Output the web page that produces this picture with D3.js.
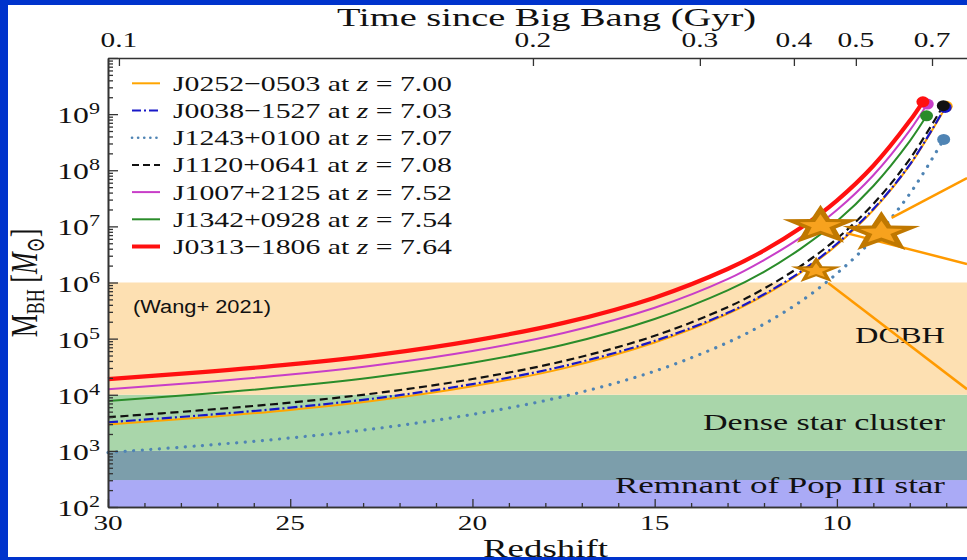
<!DOCTYPE html>
<html>
<head>
<meta charset="utf-8">
<script src="https://cdn.jsdelivr.net/npm/d3@7/dist/d3.min.js"></script>
<style>
  body { margin: 0; background: #fff; }
  svg { display: block; }
</style>
</head>
<body>
<div id="chart-area"></div>
<script>
/*
*    BH growth tracks vs redshift
*/

// ---- data ----
var redshiftGrid = [30, 27.5, 25, 22.5, 20, 17.5, 15, 13, 12, 11, 10, 9, 8];

var quasarNames = ["J0252\u22120503", "J0038\u22121527", "J1243+0100", "J1120+0641",
                   "J1007+2125", "J1342+0928", "J0313\u22121806"];
var quasarZLabels = ["7.00", "7.03", "7.07", "7.08", "7.52", "7.54", "7.64"];
var quasarEndZ = [7.00, 7.03, 7.07, 7.08, 7.52, 7.54, 7.64];

// log10(M_BH / M_sun) on redshiftGrid, last value at the quasar redshift
var logMassJ0252 = [3.47, 3.59, 3.73, 3.91, 4.15, 4.47, 4.93, 5.44, 5.77, 6.17, 6.67, 7.29, 8.09, 9.14];
var logMassJ0038 = [3.51, 3.63, 3.77, 3.95, 4.19, 4.51, 4.96, 5.46, 5.79, 6.19, 6.69, 7.31, 8.10, 9.12];
var logMassJ1243 = [2.97, 3.09, 3.23, 3.41, 3.65, 3.97, 4.42, 4.93, 5.26, 5.66, 6.16, 6.78, 7.58, 8.55];
var logMassJ1120 = [3.60, 3.72, 3.86, 4.04, 4.28, 4.60, 5.05, 5.56, 5.89, 6.29, 6.78, 7.40, 8.20, 9.15];
var logMassJ1007 = [4.10, 4.22, 4.36, 4.54, 4.78, 5.10, 5.55, 6.06, 6.40, 6.80, 7.29, 7.91, 8.71, 9.18];
var logMassJ1342 = [3.89, 4.01, 4.15, 4.33, 4.57, 4.89, 5.35, 5.86, 6.19, 6.60, 7.09, 7.72, 8.52, 8.97];
var logMassJ0313 = [4.28, 4.40, 4.54, 4.72, 4.96, 5.28, 5.73, 6.24, 6.57, 6.97, 7.46, 8.08, 8.88, 9.22];

// seed regions (log10 mass)
var bandLabels = ["Remnant of Pop III star", "", "Dense star cluster", "DCBH"];
var bandLow  = [2, 2.48, 3, 4];
var bandHigh = [2.48, 3, 4, 6];

var yTickExp = [2, 3, 4, 5, 6, 7, 8, 9];
var bottomTicks = [30, 25, 20, 15, 10];
var topTickLabels = ["0.1", "0.2", "0.3", "0.4", "0.5", "0.7"];
var topTickRedshift = [29.70, 18.34, 13.76, 11.18, 9.48, 7.39];

// star markers and pointer lines
var starZ = [10.45, 8.78, 10.57];
var starLogMass = [7.01, 6.89, 6.21];
var pointerStartZ = [8.50, 9.74, 10.24];
var pointerStartLogM = [7.15, 6.88, 5.99];
var pointerEndZ = [6.43, 6.43, 6.43];
var pointerEndLogM = [7.86, 6.33, 4.10];

// ---- styles ----
var seriesColor = ["#ffa500", "#1818c8", "#4f84b4", "#111111", "#c83ec8", "#2a8c2a", "#ff1010"];
var seriesWidth = [2, 2.2, 3.2, 2.2, 2, 2, 4.2];
var seriesDash  = [null, "10 3 2 3", "0.1 8.5", "8 4.5", null, null, null];
var bandColor = ["#aaaaf6", "#7c9eab", "#a9d6aa", "#fde0b2"];
var starRadius = [21, 21.5, 14];

var W = 967, H = 560;
var plotLeft = 108, plotRight = 967, plotTop = 58, plotBottom = 507;
var serif = "'Liberation Serif', 'DejaVu Serif', serif";

var svg = d3.select("#chart-area")
    .append("svg")
        .attr("width", W)
        .attr("height", H);

svg.append("rect").attr("width", W).attr("height", H).attr("fill", "#fff");

var x = d3.scaleLinear()
    .domain([30, 6.43])
    .range([plotLeft, plotRight]);

var y = d3.scaleLog()
    .domain([1e2, 1e10])
    .range([plotBottom, plotTop]);

// bands
svg.selectAll("rect.band")
    .data(bandLow)
    .enter()
    .append("rect")
        .attr("class", "band")
        .attr("x", plotLeft)
        .attr("width", plotRight - plotLeft)
        .attr("y", (d, i) => y(Math.pow(10, bandHigh[i])))
        .attr("height", (d, i) => y(Math.pow(10, d)) - y(Math.pow(10, bandHigh[i])))
        .attr("fill", (d, i) => bandColor[i]);

// band labels
var bandLabelX = [615, 0, 703, 855];
var bandLabelY = [493, 0, 430, 343];
var bandLabelW = [330, 0, 242, 90];
bandLabels.forEach((lab, i) => {
    if (!lab) return;
    svg.append("text")
        .attr("x", bandLabelX[i])
        .attr("y", bandLabelY[i])
        .attr("font-family", serif)
        .attr("font-size", "24px")
        .attr("fill", "#111")
        .attr("textLength", bandLabelW[i])
        .attr("lengthAdjust", "spacingAndGlyphs")
        .text(lab);
});

svg.append("text")
    .attr("x", 133)
    .attr("y", 313)
    .attr("font-family", "'Liberation Sans', Arial, sans-serif")
    .attr("font-size", "18px")
    .attr("fill", "#111")
    .attr("textLength", 138)
    .attr("lengthAdjust", "spacingAndGlyphs")
    .text("(Wang+ 2021)");

// tracks
var allMass = [logMassJ0252, logMassJ0038, logMassJ1243, logMassJ1120, logMassJ1007, logMassJ1342, logMassJ0313];

var line = d3.line()
    .x((d) => x(d.z))
    .y((d) => y(Math.pow(10, d.m)))
    .curve(d3.curveCatmullRom.alpha(0.5));

allMass.forEach((masses, i) => {
    var zs = redshiftGrid.concat([quasarEndZ[i]]);
    var pts = masses.map((m, j) => ({z: zs[j], m: m}));
    svg.append("path")
        .datum(pts)
        .attr("d", line)
        .attr("fill", "none")
        .attr("stroke", seriesColor[i])
        .attr("stroke-width", seriesWidth[i])
        .attr("stroke-dasharray", seriesDash[i])
        .attr("stroke-linecap", i == 2 ? "round" : "butt");
});

allMass.forEach((masses, i) => {
    svg.append("ellipse")
        .attr("cx", x(quasarEndZ[i]))
        .attr("cy", y(Math.pow(10, masses[masses.length - 1])))
        .attr("rx", 6.5)
        .attr("ry", 5.5)
        .attr("fill", seriesColor[i]);
});

// pointer lines
pointerStartZ.forEach((z0, i) => {
    svg.append("line")
        .attr("x1", x(z0))
        .attr("y1", y(Math.pow(10, pointerStartLogM[i])))
        .attr("x2", x(pointerEndZ[i]))
        .attr("y2", y(Math.pow(10, pointerEndLogM[i])))
        .attr("stroke", "#ff9a00")
        .attr("stroke-width", 2.5);
});

// stars
function starPath(R, k) {
    var p = [];
    for (var j = 0; j < 10; j++) {
        var a = (-90 + j * 36) * Math.PI / 180;
        var r = j % 2 == 0 ? R : R * k;
        p.push([r * Math.cos(a), r * Math.sin(a)]);
    }
    return "M" + p.map((q) => q[0].toFixed(2) + "," + q[1].toFixed(2)).join("L") + "Z";
}

starZ.forEach((z, i) => {
    var g = svg.append("g")
        .attr("transform", "translate(" + x(z) + "," + y(Math.pow(10, starLogMass[i])) + ") scale(1.9,1)");
    g.append("path").attr("d", starPath(starRadius[i], 0.4)).attr("fill", "#c07800");
    g.append("path").attr("d", starPath(starRadius[i] * 0.55, 0.42)).attr("fill", "#f7a21e");
});

// legend
var legendY0 = 83.3, legendStep = 27.2;
quasarNames.forEach((name, i) => {
    var ly = legendY0 + i * legendStep;
    svg.append("line")
        .attr("x1", 132).attr("x2", 160)
        .attr("y1", ly).attr("y2", ly)
        .attr("stroke", seriesColor[i])
        .attr("stroke-width", i == 6 ? 4 : (i == 2 ? 2.6 : 2))
        .attr("stroke-dasharray", i == 2 ? "0.1 6" : (i == 1 ? "9 3 2 3" : (i == 3 ? "7 4" : null)))
        .attr("stroke-linecap", i == 2 ? "round" : "butt");
    var t = svg.append("text")
        .attr("x", 173)
        .attr("y", ly + 7.5)
        .attr("font-family", serif)
        .attr("font-size", "22px")
        .attr("fill", "#111")
        .attr("textLength", 279)
        .attr("lengthAdjust", "spacingAndGlyphs");
    t.append("tspan").text(name + " at ");
    t.append("tspan").attr("font-style", "italic").text("z");
    t.append("tspan").text(" = " + quasarZLabels[i]);
});

// axes
function styleAxis(g) {
    g.selectAll("text").remove();
    g.selectAll("line").attr("stroke", "#333").attr("stroke-width", 1.3);
    g.select(".domain").attr("stroke", "#333").attr("stroke-width", 1.6);
}

var minorY = [];
for (var e = 2; e < 10; e++) {
    for (var k = 2; k < 10; k++) minorY.push(k * Math.pow(10, e));
}
var majorY = yTickExp.map((e) => Math.pow(10, e)).concat([1e10]);

svg.append("g")
    .attr("transform", "translate(" + plotLeft + ",0)")
    .call(d3.axisLeft(y).tickValues(minorY).tickSize(-5).tickSizeOuter(0))
    .call(styleAxis);
svg.append("g")
    .attr("transform", "translate(" + plotLeft + ",0)")
    .call(d3.axisLeft(y).tickValues(majorY).tickSize(-10).tickSizeOuter(0))
    .call(styleAxis);

var minorX = d3.range(7, 30).filter((d) => d % 5 != 0);
svg.append("g")
    .attr("transform", "translate(0," + plotBottom + ")")
    .call(d3.axisBottom(x).tickValues(minorX).tickSize(-4).tickSizeOuter(0))
    .call(styleAxis);
svg.append("g")
    .attr("transform", "translate(0," + plotBottom + ")")
    .call(d3.axisBottom(x).tickValues(bottomTicks).tickSize(-8).tickSizeOuter(0))
    .call(styleAxis);

svg.append("g")
    .attr("transform", "translate(0," + plotTop + ")")
    .call(d3.axisTop(x).tickValues(topTickRedshift).tickSize(-8).tickSizeOuter(0))
    .call(styleAxis);

// tick labels (figure is stretched horizontally)
function stretched(px, py, sx, size, anchor) {
    return svg.append("text")
        .attr("transform", "translate(" + px + "," + py + ") scale(" + sx + ",1)")
        .attr("text-anchor", anchor)
        .attr("font-family", serif)
        .attr("font-size", size + "px")
        .attr("fill", "#111");
}

yTickExp.forEach((e) => {
    var t = stretched(100, y(Math.pow(10, e)) + 9, 1.38, 23, "end");
    t.append("tspan").text("10");
    t.append("tspan").attr("font-size", "16px").attr("dy", -9).text(e);
});

bottomTicks.forEach((d) => {
    stretched(x(d), 530, 1.33, 22, "middle").text(d);
});

topTickRedshift.forEach((d, i) => {
    stretched(x(d), 47, 1.4, 21, "middle").text(topTickLabels[i]);
});

// axis titles
svg.append("text")
    .attr("x", 337)
    .attr("y", 26)
    .attr("font-family", serif)
    .attr("font-size", "26px")
    .attr("fill", "#111")
    .attr("textLength", 419)
    .attr("lengthAdjust", "spacingAndGlyphs")
    .text("Time since Big Bang (Gyr)");

svg.append("text")
    .attr("x", 483)
    .attr("y", 557)
    .attr("font-family", serif)
    .attr("font-size", "26px")
    .attr("fill", "#111")
    .attr("textLength", 125)
    .attr("lengthAdjust", "spacingAndGlyphs")
    .text("Redshift");

var yl = svg.append("text")
    .attr("transform", "translate(37,283) scale(1.45,1) rotate(-90)")
    .attr("text-anchor", "middle")
    .attr("font-family", serif)
    .attr("font-size", "26px")
    .attr("fill", "#111");
yl.append("tspan").text("M");
yl.append("tspan").attr("font-size", "18px").attr("dy", 5).text("BH");
yl.append("tspan").attr("dy", -5).text(" [");
yl.append("tspan").attr("font-style", "italic").text("M");
yl.append("tspan").attr("font-size", "18px").attr("dy", 5).text("\u2299");
yl.append("tspan").attr("dy", -5).text("]");

// slide frame
svg.append("rect").attr("x", 0).attr("y", 0).attr("width", W).attr("height", 5).attr("fill", "#0033cc");
svg.append("rect").attr("x", 0).attr("y", 0).attr("width", 8).attr("height", H).attr("fill", "#0033cc");
svg.append("rect").attr("x", 0).attr("y", 557).attr("width", W).attr("height", 3).attr("fill", "#0033cc");
</script>
</body>
</html>
